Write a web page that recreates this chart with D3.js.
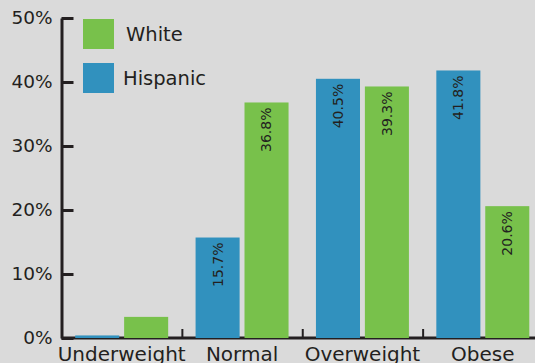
<!DOCTYPE html>
<html>
<head>
<meta charset="utf-8">
<script src="https://cdn.jsdelivr.net/npm/d3@7"></script>
<style>
  body { margin: 0; background: #dadada; }
  svg { display: block; font-family: "DejaVu Sans", sans-serif; }
</style>
</head>
<body>
<div id="chart"></div>
<script>
"use strict";

const categories = ["Underweight", "Normal", "Overweight", "Obese"];
const groups = ["Hispanic", "White"];
const hispanic = [0.4, 15.7, 40.5, 41.8];
const white = [3.3, 36.8, 39.3, 20.6];
const yTicks = [0, 10, 20, 30, 40, 50];

const colors = { Hispanic: "#3191be", White: "#78c14b" };
const ink = "#231f20";

const width = 535, height = 363;

const svg = d3.select("#chart")
    .append("svg")
    .attr("width", width)
    .attr("height", height);

svg.append("rect")
    .attr("width", width)
    .attr("height", height)
    .attr("fill", "#dadada");

// scales
const x0 = d3.scaleBand().domain(categories).range([61.5, 543]);
const x1 = d3.scaleBand().domain(groups)
    .range([0, x0.bandwidth()])
    .paddingInner(0.1)
    .paddingOuter(0.28);
const y = d3.scaleLinear().domain([0, 50]).range([338, 18]);

const rows = categories.map((c, i) => ({
    cat: c,
    values: [
        { key: "Hispanic", value: hispanic[i] },
        { key: "White", value: white[i] }
    ]
}));

// x axis line + boundary ticks
svg.append("line")
    .attr("x1", x0.range()[0]).attr("x2", width)
    .attr("y1", y(0)).attr("y2", y(0))
    .attr("stroke", ink).attr("stroke-width", 3);

svg.selectAll("line.bound")
    .data(categories.slice(1))
    .enter()
    .append("line")
    .attr("class", "bound")
    .attr("x1", d => x0(d) + 0.5).attr("x2", d => x0(d) + 0.5)
    .attr("y1", y(0)).attr("y2", y(0) - 9)
    .attr("stroke", ink).attr("stroke-width", 2);

// bars
const g = svg.selectAll("g.cat")
    .data(rows)
    .enter()
    .append("g")
    .attr("class", "cat")
    .attr("transform", d => "translate(" + x0(d.cat) + ",0)");

g.selectAll("rect")
    .data(d => d.values)
    .enter()
    .append("rect")
    .attr("x", d => x1(d.key))
    .attr("width", x1.bandwidth())
    .attr("y", d => y(d.value))
    .attr("height", d => y(0) - y(d.value))
    .attr("fill", d => colors[d.key]);

// value labels, read bottom to top
g.selectAll("text.val")
    .data(d => d.values.filter(v => v.value >= 10))
    .enter()
    .append("text")
    .attr("class", "val")
    .attr("transform", d => "translate(" + (x1(d.key) + x1.bandwidth() / 2) + "," + (y(d.value) + 5) + ") rotate(-90)")
    .attr("dy", "0.35em")
    .attr("text-anchor", "end")
    .attr("font-size", "14px")
    .attr("fill", ink)
    .text(d => d.value.toFixed(1) + "%");

// y axis
const yAxis = d3.axisLeft(y)
    .tickValues(yTicks)
    .tickFormat(d => d + "%")
    .tickSizeInner(-12)
    .tickSizeOuter(0)
    .tickPadding(9);

const ya = svg.append("g")
    .attr("transform", "translate(61.5,0)")
    .call(yAxis);
ya.select(".domain").attr("stroke", ink).attr("stroke-width", 3);
ya.selectAll(".tick line").attr("stroke", ink).attr("stroke-width", 3);
ya.selectAll(".tick text")
    .attr("fill", ink)
    .style("font-size", "18.5px")
    .style("font-family", "'DejaVu Sans', sans-serif");

// category labels
svg.selectAll("text.cat")
    .data(categories)
    .enter()
    .append("text")
    .attr("class", "cat")
    .attr("x", d => x0(d) + x0.bandwidth() / 2)
    .attr("y", 361)
    .attr("text-anchor", "middle")
    .attr("font-size", "20px")
    .attr("fill", ink)
    .text(d => d);

// legend
const legendItems = ["White", "Hispanic"];
const lg = svg.selectAll("g.legend")
    .data(legendItems)
    .enter()
    .append("g")
    .attr("class", "legend")
    .attr("transform", (d, i) => "translate(83," + (19 + i * 44) + ")");
lg.append("rect")
    .attr("width", 31)
    .attr("height", 30)
    .attr("fill", d => colors[d]);
lg.append("text")
    .attr("x", (d, i) => i == 0 ? 43 : 40)
    .attr("y", 15)
    .attr("dy", "0.35em")
    .attr("font-size", "19.5px")
    .attr("fill", ink)
    .text(d => d);
</script>
</body>
</html>
